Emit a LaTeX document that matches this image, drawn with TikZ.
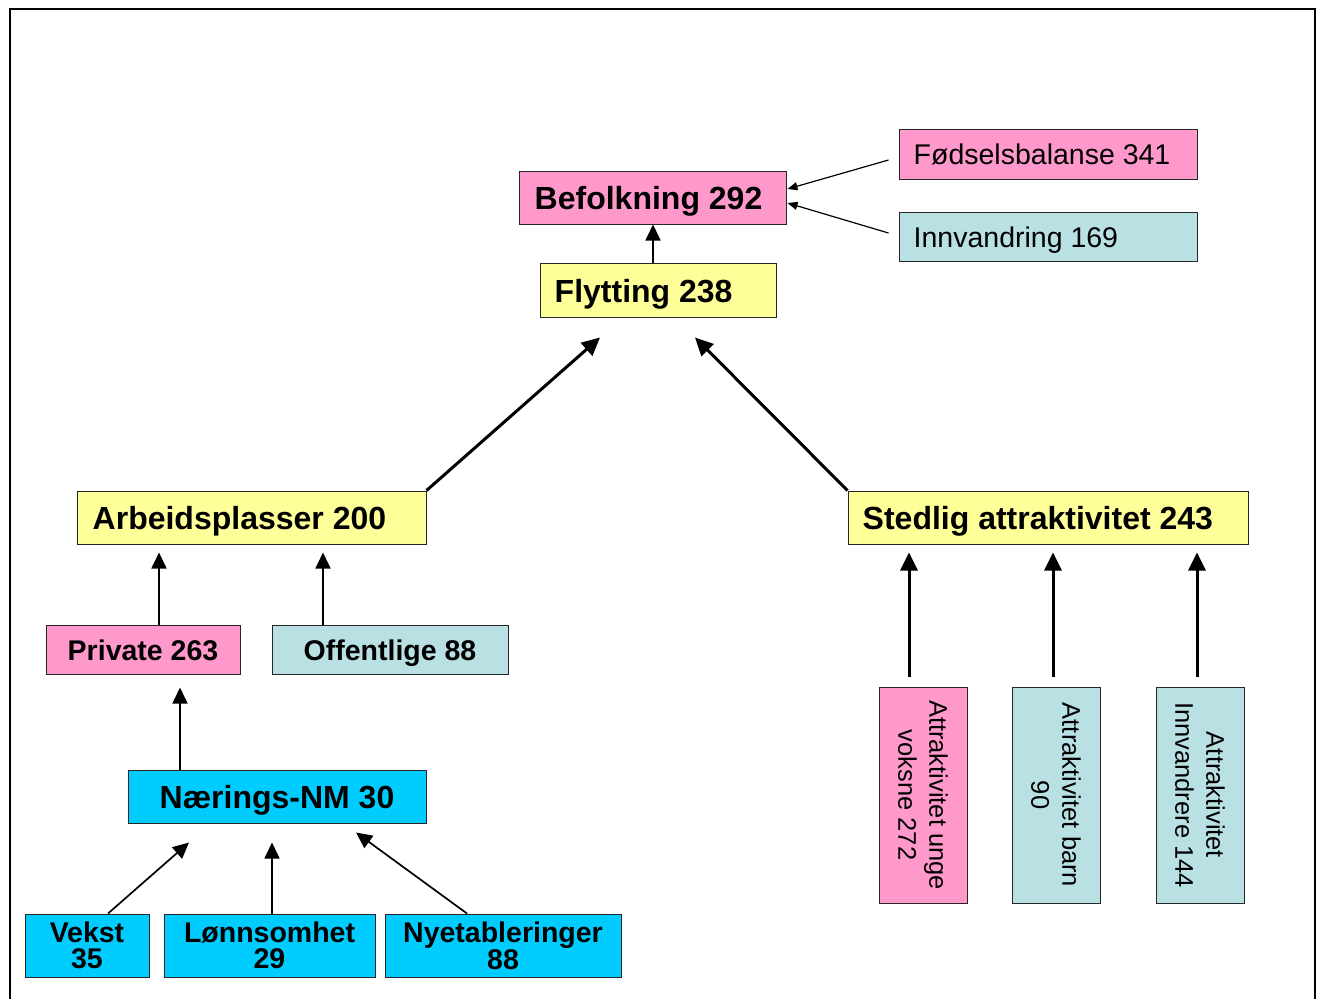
\documentclass[tikz,border=0pt]{standalone}
\usepackage{fontspec}
\setmainfont{Liberation Sans}
\usetikzlibrary{arrows.meta,calc}
\definecolor{pinkc}{HTML}{FF99CC}
\definecolor{yelc}{HTML}{FFFF99}
\definecolor{tealc}{HTML}{B9E0E3}
\definecolor{cyanc}{HTML}{00CCFF}
\newcommand\fbig{\fontsize{32}{36}\selectfont\bfseries}
\newcommand\fmid{\fontsize{28.5}{25.5}\selectfont\bfseries}
\newcommand\freg{\fontsize{28.5}{32}\selectfont}
\newcommand\fvert{\fontsize{25.5}{31}\selectfont}
\begin{document}
\begin{tikzpicture}[x=1pt,y=-1pt,
  box/.style={draw=black!85, line width=1pt, inner sep=0pt, anchor=center, align=center},
  lbox/.style={draw=black!85, line width=1pt, inner sep=0pt, anchor=center},
  capbox/.style={box, text height=#1, text depth=0pt},
  ltext/.style={anchor=base west, inner sep=0pt},
  thinarr/.style={line width=1.7pt, -{Triangle[length=16pt,width=15pt]}},
  thickarr/.style={line width=3pt, -{Triangle[length=18pt,width=17pt]}},
  finearr/.style={line width=1.2pt, -{Triangle[length=10pt,width=8pt]}}]
\useasboundingbox (0,0) rectangle (1321,999);
\draw[line width=2.5pt] (10,999) -- (10,9) -- (1315,9) -- (1315,999);

% top
\node[lbox, fill=pinkc, minimum width=267pt, minimum height=53pt] (befolk) at (652.5,197.5) {};
\node[ltext, font=\fbig] (befolkt) at ($(befolk.west)+(16,12)$) {Befolkning 292};
\node[lbox, fill=pinkc, minimum width=298pt, minimum height=50pt] (fods) at (1048,154) {};
\node[ltext, font=\freg] (fodst) at ($(fods.west)+(15,10.5)$) {Fødselsbalanse 341};
\node[lbox, fill=tealc, minimum width=298pt, minimum height=49pt] (innv) at (1048,236.5) {};
\node[ltext, font=\freg] (innvt) at ($(innv.west)+(15,10.5)$) {Innvandring 169};
\node[lbox, fill=yelc, minimum width=236pt, minimum height=54pt] (flyt) at (658,290) {};
\node[ltext, font=\fbig] (flytt) at ($(flyt.west)+(15,12)$) {Flytting 238};
% middle
\node[lbox, fill=yelc, minimum width=349pt, minimum height=53pt] (arb) at (251.5,517.5) {};
\node[ltext, font=\fbig] (arbt) at ($(arb.west)+(16,12)$) {Arbeidsplasser 200};
\node[lbox, fill=yelc, minimum width=400pt, minimum height=53pt] (sted) at (1048,517.5) {};
\node[ltext, font=\fbig] (stedt) at ($(sted.west)+(15,12)$) {Stedlig attraktivitet 243};
\node[capbox=22pt, fill=pinkc, minimum width=194pt, minimum height=49pt, font=\fmid] (priv) at (143,649.5) {Private 263};
\node[capbox=22pt, fill=tealc, minimum width=236pt, minimum height=49pt, font=\fmid] (off) at (390,649.5) {Offentlige 88};
\node[capbox=24pt, fill=cyanc, minimum width=298pt, minimum height=53pt, font=\fbig] (naer) at (277,796.5) {Nærings-NM 30};
% bottom
\node[box, fill=cyanc, minimum width=124pt, minimum height=63pt, font=\fmid] (vekst) at (87,945.5) {Vekst\\35};
\node[box, fill=cyanc, minimum width=211pt, minimum height=63pt, font=\fmid] (lonn) at (269.5,945.5) {Lønnsomhet\\29};
\node[box, fill=cyanc, minimum width=236pt, minimum height=63pt, font=\fmid] (nyet) at (503,945.5) {Nyetableringer\\88};
% vertical
\node[box, rotate=-90, fill=pinkc, minimum width=216pt, minimum height=88pt, font=\fvert] (unge) at (923,795) {Attraktivitet unge\\voksne 272};
\node[box, rotate=-90, fill=tealc, minimum width=216pt, minimum height=88pt, font=\fvert] (barn) at (1056,795) {Attraktivitet barn\\90};
\node[box, rotate=-90, fill=tealc, minimum width=216pt, minimum height=88pt, font=\fvert] (innva) at (1200,795) {Attraktivitet\\Innvandrere 144};

% connectors
\draw[thinarr] ($(flyt.north)+(-5,0)$) -- ($(befolk.south)+(0.5,0)$);
\draw[finearr] ($(fods.west)+(-10,6)$) -- ($(befolk.east)+(1,-8.5)$);
\draw[finearr] ($(innv.west)+(-10,-3.5)$) -- ($(befolk.east)+(1,5.5)$);
\draw[thickarr] (arb.north east) -- ($(flyt.south)+(-58,20)$);
\draw[thickarr] (sted.north west) -- ($(flyt.south)+(37,20)$);
\draw[thinarr] ($(priv.north)+(16,0)$) -- ($(arb.south)+(-92.5,8)$);
\draw[thinarr] ($(off.north)+(-67,0)$) -- ($(arb.south)+(71.5,8)$);
\draw[thinarr] ($(naer.north)+(-97,0)$) -- ($(priv.south)+(37,13)$);
\draw[thinarr] ($(vekst.north)+(21,0)$) -- ($(naer.south)+(-88,19)$);
\draw[thinarr] ($(lonn.north)+(2.5,0)$) -- ($(naer.south)+(-5,19)$);
\draw[thinarr] ($(nyet.north)+(-36,0)$) -- ($(naer.south)+(79,9)$);
\draw[thickarr] ($(unge.west)+(-14,-10)$) -- ($(sted.south)+(-139,8)$);
\draw[thickarr] ($(barn.west)+(-3,-10)$) -- ($(sted.south)+(5,8)$);
\draw[thickarr] ($(innva.west)+(-3,-10)$) -- ($(sted.south)+(149,8)$);
\end{tikzpicture}
\end{document}
